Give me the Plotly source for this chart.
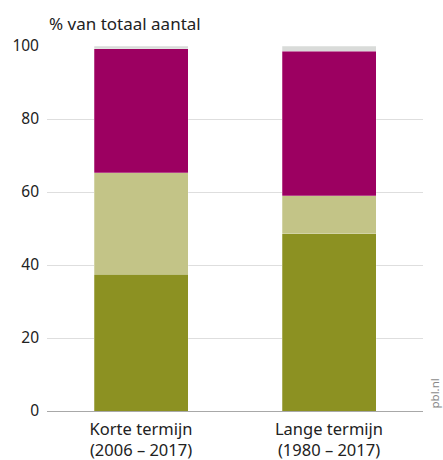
import plotly.graph_objects as go

categories = ["Korte termijn<br>(2006 – 2017)", "Lange termijn<br>(1980 – 2017)"]
segment_a = [37.4, 48.5]   # bottom, dark olive
segment_b = [27.9, 10.5]   # light olive
segment_c = [33.9, 39.6]   # magenta
segment_d = [0.8, 1.4]     # light grey top

colors = ["#8c9122", "#c3c487", "#9c0061", "#d9dbd9"]
series = [segment_a, segment_b, segment_c, segment_d]

FONT = "Noto Sans"

fig = go.Figure()
for vals, col in zip(series, colors):
    fig.add_trace(go.Bar(
        x=categories, y=vals, marker=dict(color=col, line=dict(color="rgba(255,255,255,0.5)", width=0.5)),
        width=0.5, hoverinfo="skip", showlegend=False,
    ))

fig.update_layout(
    barmode="stack",
    width=443, height=460,
    margin=dict(l=47, r=20, t=46, b=49),
    paper_bgcolor="white", plot_bgcolor="white",
    font=dict(family=FONT, size=15, color="#222222"),
    xaxis=dict(range=[-0.5, 1.5], showgrid=False, showline=True, linecolor="#a8a8a8",
               linewidth=1, ticks="", tickfont=dict(size=16.5), ticklabelstandoff=3,
               automargin=False),
    yaxis=dict(range=[0, 100], tickvals=[0, 20, 40, 60, 80, 100], showgrid=True,
               gridcolor="#dedede", gridwidth=1, zeroline=False, showline=False,
               ticks="", tickfont=dict(size=15.5), ticklabelstandoff=7, automargin=False),
    annotations=[
        dict(text="% van totaal aantal", xref="paper", yref="paper", x=0, y=1,
             xanchor="left", yanchor="bottom", yshift=9, showarrow=False,
             font=dict(size=17, color="#222222")),
        dict(text="pbl.nl", xref="paper", yref="paper", x=1, y=0,
             xanchor="left", yanchor="bottom", xshift=1, showarrow=False,
             textangle=-90, font=dict(size=11.5, color="#888888")),
    ],
)

fig.write_html("out.html")
